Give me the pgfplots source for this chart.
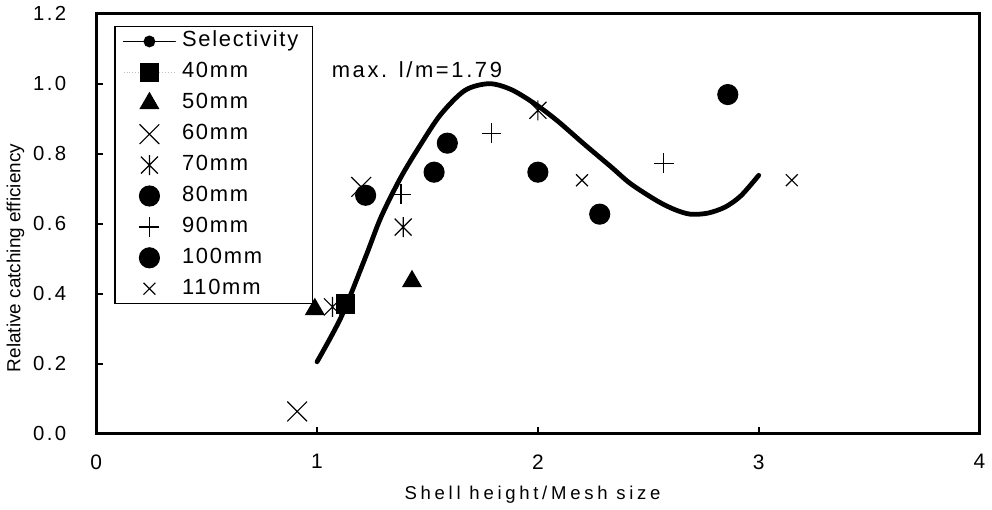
\documentclass[border=0pt]{standalone}
\usepackage{fontspec}
\setmainfont{Liberation Sans}
\newfontfamily\lsleg[LetterSpace=8]{Liberation Sans}
\newfontfamily\lstick[LetterSpace=12]{Liberation Sans}
\newfontfamily\lswide[LetterSpace=20]{Liberation Sans}
\usepackage{pgfplots}
\pgfplotsset{compat=1.18}

% asterisk: an x with a vertical stroke
\pgfdeclareplotmark{ast}{%
  \pgfpathmoveto{\pgfqpoint{0pt}{\pgfplotmarksize}}%
  \pgfpathlineto{\pgfqpoint{0pt}{-\pgfplotmarksize}}%
  \pgfpathmoveto{\pgfqpoint{-.85\pgfplotmarksize}{.85\pgfplotmarksize}}%
  \pgfpathlineto{\pgfqpoint{.85\pgfplotmarksize}{-.85\pgfplotmarksize}}%
  \pgfpathmoveto{\pgfqpoint{-.85\pgfplotmarksize}{-.85\pgfplotmarksize}}%
  \pgfpathlineto{\pgfqpoint{.85\pgfplotmarksize}{.85\pgfplotmarksize}}%
  \pgfusepathqstroke}

\pgfplotsset{
  midleg/.style={legend image code/.code={\draw[mark repeat=2,mark phase=2,##1]
    plot coordinates {(0pt,0pt) (13pt,0pt) (26pt,0pt)};}},
  dotleg/.style={legend image code/.code={\draw[gray!50,densely dotted,line width=0.5pt]
    (0pt,0pt)--(26pt,0pt); \draw[##1] plot coordinates {(13pt,0pt)};}},
  selleg/.style={legend image code/.code={\draw[line width=0.7pt] (0pt,0pt)--(26pt,0pt);
    \fill (13pt,0pt) circle (1.7pt);}},
  pt/.style={only marks, black, mark options={solid, line width=0.6pt}, midleg},
}

\begin{document}
\begin{tikzpicture}
\begin{axis}[
  scale only axis, width=443pt, height=210.5pt,
  xmin=0, xmax=4, ymin=0, ymax=1.2, clip=false,
  axis line style={line width=1.3pt},
  xtick={0,1,2,3,4}, xticklabels={0,1,2,3,4},
  ytick={0,0.2,0.4,0.6,0.8,1.0,1.2},
  yticklabels={0.0,0.2,0.4,0.6,0.8,1.0,1.2},
  xtick pos=bottom, ytick pos=left, tick align=inside,
  major tick length=3.5pt, tick style={line width=1pt, black},
  xticklabel style={font=\lstick\fontsize{10.5}{12}\selectfont, yshift=-7pt},
  yticklabel style={font=\lstick\fontsize{10.2}{12}\selectfont, xshift=-11.5pt},
  xlabel={Shell height/Mesh size},
  xlabel style={font=\lswide\fontsize{9.3}{11}\selectfont,
    at={(axis description cs:0.494,-0.157)}, anchor=base},
  ylabel={Relative catching efficiency},
  ylabel style={font=\fontsize{9.5}{11}\selectfont,
    at={(axis description cs:-0.0914,0.418)}, anchor=center},
  legend cell align=left,
  legend style={at={(rel axis cs:0.0203,0.9715)}, anchor=north west,
    draw=black, line width=0.7pt, inner xsep=4pt, inner ysep=2.3pt,
    row sep=5pt, font=\lsleg\fontsize{11}{12}\selectfont,
    nodes={inner xsep=3pt, inner ysep=0pt, text height=8pt, text depth=2.5pt}},
]

\addplot[black, line width=2.4pt, line cap=round, smooth, selleg]
  coordinates {
  (1.00,0.205) (1.11,0.334) (1.22,0.505) (1.29,0.619) (1.38,0.733)
  (1.47,0.827) (1.56,0.912) (1.67,0.981) (1.78,1.000) (1.88,0.983)
  (1.99,0.941) (2.09,0.893) (2.21,0.827) (2.33,0.763) (2.42,0.714)
  (2.54,0.665) (2.62,0.640) (2.69,0.627) (2.77,0.630) (2.85,0.648)
  (2.92,0.680) (3.00,0.738)};
\addlegendentry{Selectivity}

\addplot[pt, mark=square*, mark size=4.5pt, dotleg]
  coordinates {(1.13,0.370)};
\addlegendentry{40mm}

\addplot[pt, mark=triangle*, mark size=5.2pt]
  coordinates {(0.99,0.355) (1.43,0.435)};
\addlegendentry{50mm}

\addplot[pt, mark=x, mark size=7pt]
  coordinates {(0.91,0.063) (1.20,0.705)};
\addlegendentry{60mm}

\addplot[pt, mark=ast, mark size=5pt]
  coordinates {(1.07,0.362) (1.39,0.590) (2.00,0.924)};
\addlegendentry{70mm}

\addplot[pt, mark=*, mark size=5pt]
  coordinates {(1.22,0.681) (1.53,0.747) (2.00,0.747)};
\addlegendentry{80mm}

\addplot[pt, mark=+, mark size=5pt]
  coordinates {(1.38,0.684) (1.79,0.858) (2.57,0.773)};
\addlegendentry{90mm}

\addplot[pt, mark=*, mark size=5pt]
  coordinates {(1.59,0.830) (2.28,0.627) (2.86,0.969)};
\addlegendentry{100mm}

\addplot[pt, mark=x, mark size=4.2pt]
  coordinates {(2.20,0.724) (3.15,0.724)};
\addlegendentry{110mm}

\node[font=\lstick\fontsize{11}{12}\selectfont, anchor=base west, inner sep=0pt]
  at (axis cs:1.065,1.018) {max. l/m=1.79};
\end{axis}
\end{tikzpicture}
\end{document}
